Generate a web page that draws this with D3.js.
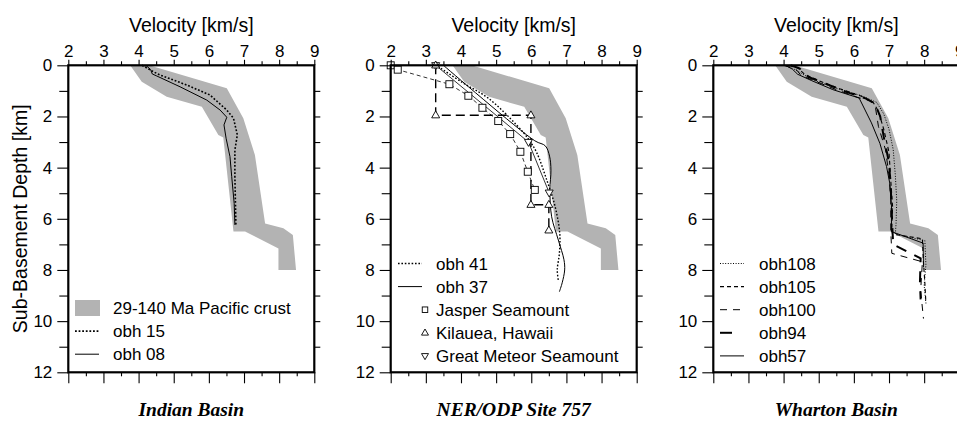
<!DOCTYPE html>
<html><head><meta charset="utf-8">
<script src="https://cdn.jsdelivr.net/npm/d3@7"></script>
<style>body{margin:0;background:#fff}svg{display:block}</style>
</head><body><svg id="c" width="957" height="421"></svg>
<script>
// ---- data ----
const panelTitles = ["Indian Basin", "NER/ODP Site 757", "Wharton Basin"];
const velTicks = [2,3,4,5,6,7,8,9];
const depthTicks = [0,2,4,6,8,10,12];
// Pacific crust envelope (29-140 Ma), polygon: velocity / depth
const bandV = [3.76,4.09,4.80,5.80,6.27,6.41,6.70,7.03,7.98,7.98,8.48,8.39,8.12,7.60,7.31,6.98,6.51,4.30];
const bandD = [0,0.64,1.23,1.62,2.72,2.82,6.5,6.5,7.16,8.0,8.0,6.63,6.37,6.18,3.51,2.07,0.9,0];
// Indian Basin
const obh15V = [4.10,4.42,4.61,5.37,6.03,6.51,6.70,6.81,6.74,6.74,6.77];
const obh15D = [0,0.25,0.38,0.77,1.16,1.75,2.07,2.72,3.31,4.35,6.24];
const obh08V = [4.10,4.23,4.34,4.39,4.52,5.18,5.94,6.32,6.51,6.43,6.49,6.60,6.65,6.72,6.74];
const obh08D = [0,0.03,0.16,0.34,0.42,0.84,1.36,1.75,2.03,2.33,2.85,3.57,4.35,5.40,6.24];
// NER / ODP Site 757
const obh41V = [3.35,4.05,4.78,5.58,5.93,6.15,6.44,6.68,6.81,6.80,6.74,6.77];
const obh41D = [0.05,0.68,1.29,2.33,2.90,3.40,4.48,5.53,6.57,7.35,8.00,8.40];
const obh37V = [3.50,6.10,6.40,6.52,6.56,6.53,6.58,6.77,6.93,6.95,6.88,6.80];
const obh37D = [0,2.95,3.15,3.55,4.10,4.87,5.92,6.83,7.60,8.00,8.50,8.85];
const jasperV = [2.00,2.20,3.67,4.21,4.61,5.06,5.40,5.69,5.90,6.10];
const jasperD = [0,0.17,0.74,1.19,1.66,2.18,2.69,3.38,4.16,4.87];
const kilaueaV = [3.28,3.28,5.99,5.99,6.50,6.50];
const kilaueaD = [0,1.95,1.95,5.45,5.45,6.45];
const meteorV = [3.28,5.92,6.51];
const meteorD = [0,3.00,4.98];
// Wharton Basin
const obh108V = [4.10,4.30,4.55,4.90,5.50,6.20,6.65,6.85,7.00,7.12,7.18,7.22,7.20,7.18,8.02,8.05,8.00,8.05];
const obh108D = [0,0.15,0.35,0.60,0.90,1.18,1.45,1.90,2.50,3.30,4.30,5.30,6.20,6.60,6.85,7.80,8.60,9.30];
const obh105V = [4.15,4.40,4.60,5.00,5.60,6.20,6.55,6.70,6.85,7.00,7.05,7.10,7.08,7.10,7.95,7.98,8.02,8.05];
const obh105D = [0,0.10,0.35,0.60,0.92,1.20,1.45,1.80,2.50,3.40,4.50,5.50,6.40,6.60,6.78,7.70,8.50,9.30];
const obh100V = [4.00,4.35,4.50,4.95,5.50,6.10,6.50,6.62,6.70,6.90,7.00,7.05,7.05,7.08,7.95,7.90,7.98];
const obh100D = [0,0.15,0.40,0.65,0.95,1.25,1.40,1.70,2.40,3.30,4.30,5.20,6.50,7.35,7.68,8.80,9.90];
const obh94V = [4.20,4.45,4.70,5.20,5.80,6.35,6.60,6.75,6.85,7.00,7.05,7.08,7.10,7.12,7.90,7.88,7.90];
const obh94D = [0,0.12,0.45,0.72,1.05,1.30,1.50,2.00,2.80,3.80,4.80,5.80,6.50,7.00,7.55,8.50,9.15];
const obh57V = [4.05,4.25,4.40,4.80,5.40,6.15,6.50,6.74,6.93,7.02,7.07,7.07,7.97,7.98];
const obh57D = [0,0.15,0.35,0.60,0.95,1.28,2.25,3.05,3.96,4.60,5.50,6.50,6.95,7.90];

// ---- layout ----
const svg = d3.select("#c");
const SANS = "'Liberation Sans', Arial, Helvetica, sans-serif";
const SERIF = "'Liberation Serif', 'Times New Roman', serif";
const panelX = [68.3, 390.7, 713.3];
const pw = 246, yTop = 65.3, yBot = 372.3;
const zip = (v, d) => v.map((x, i) => [x, d[i]]);

const series = [
  [ {v:obh15V,d:obh15D,w:1.6,dash:"1.8,1.8"},
    {v:obh08V,d:obh08D,w:1,dash:null} ],
  [ {v:jasperV,d:jasperD,w:0.8,dash:"4,3",mark:"square"},
    {v:meteorV,d:meteorD,w:0.8,dash:null,mark:"tdown"},
    {v:kilaueaV,d:kilaueaD,w:1.4,dash:"9,5",mark:"tup"},
    {v:obh41V,d:obh41D,w:1.4,dash:"1.6,1.8",curve:true},
    {v:obh37V,d:obh37D,w:1,dash:null,curve:true} ],
  [ {v:obh108V,d:obh108D,w:1,dash:"1,1.6"},
    {v:obh105V,d:obh105D,w:1.1,dash:"4,3"},
    {v:obh100V,d:obh100D,w:1,dash:"7,6"},
    {v:obh94V,d:obh94D,w:2,dash:"11,9"},
    {v:obh57V,d:obh57D,w:1,dash:null} ]
];
const legends = [
  [ {label:"29-140 Ma Pacific crust", type:"band"},
    {label:"obh 15", w:1.6, dash:"1.8,1.8"},
    {label:"obh 08", w:1, dash:null} ],
  [ {label:"obh 41", w:1.4, dash:"1.6,1.8"},
    {label:"obh 37", w:1, dash:null},
    {label:"Jasper Seamount", mark:"square"},
    {label:"Kilauea, Hawaii", mark:"tup"},
    {label:"Great Meteor Seamount", mark:"tdown"} ],
  [ {label:"obh108", w:1, dash:"1,1.6"},
    {label:"obh105", w:1.1, dash:"4,3"},
    {label:"obh100", w:1, dash:"7,6"},
    {label:"obh94", w:2, dash:"12,40"},
    {label:"obh57", w:1, dash:null} ]
];
const legendPos = [ {x:75,y:308,tx:113}, {x:398,y:263.5,tx:436}, {x:720,y:263.5,tx:759} ];

function marker(g, type, x, y, s) {
  if (type === "square") {
    g.append("rect").attr("x", x - s/2).attr("y", y - s/2).attr("width", s).attr("height", s)
      .attr("fill", "#fff").attr("stroke", "#000").attr("stroke-width", 0.9);
  } else {
    const h = s * 0.87, sgn = type === "tup" ? 1 : -1;
    const pts = [[x, y - sgn*h*0.62],[x - s/2, y + sgn*h*0.38],[x + s/2, y + sgn*h*0.38]];
    g.append("path").attr("d", "M" + pts.map(p => p.join(",")).join("L") + "Z")
      .attr("fill", "#fff").attr("stroke", "#000").attr("stroke-width", 0.9);
  }
}

panelX.forEach((x0, pi) => {
  const xs = d3.scaleLinear().domain([2, 9]).range([x0, x0 + pw]);
  const ys = d3.scaleLinear().domain([0, 12]).range([yTop, yBot]);
  const g = svg.append("g");

  const band = zip(bandV, bandD);
  g.append("path").attr("d", d3.line().x(p => xs(p[0])).y(p => ys(p[1]))(band) + "Z")
    .attr("fill", "#b3b3b3").attr("stroke", "none");

  series[pi].forEach(s => {
    const pts = zip(s.v, s.d);
    const ln = d3.line().x(p => xs(p[0])).y(p => ys(p[1]));
    if (s.curve) ln.curve(d3.curveCatmullRom.alpha(0.5));
    g.append("path").attr("d", ln(pts)).attr("fill", "none").attr("stroke", "#000")
      .attr("stroke-width", s.w).attr("stroke-dasharray", s.dash);
  });
  series[pi].forEach(s => {
    if (!s.mark) return;
    zip(s.v, s.d).forEach(p => marker(g, s.mark, xs(p[0]), ys(p[1]), s.mark === "square" ? 7 : 8));
  });

  const half = d3.range(2.5, 9, 1);
  const odd = [1,3,5,7,9,11];
  const ax = (gen, tr) => {
    const a = g.append("g").attr("transform", tr).call(gen);
    a.select(".domain").remove();
    a.selectAll("line").attr("stroke", "#000").attr("stroke-width", 1.1);
    a.selectAll("text").attr("font-family", SANS).attr("font-size", 17).attr("fill", "#000");
    return a;
  };
  ax(d3.axisTop(xs).tickValues(velTicks).tickSize(5.5).tickPadding(3).tickFormat(d3.format("d")), `translate(0,${yTop})`);
  ax(d3.axisTop(xs).tickValues(half).tickSize(4).tickFormat(""), `translate(0,${yTop})`);
  ax(d3.axisBottom(xs).tickValues(velTicks).tickSize(11).tickFormat(""), `translate(0,${yBot})`);
  ax(d3.axisBottom(xs).tickValues(half).tickSize(4).tickFormat(""), `translate(0,${yBot})`);
  ax(d3.axisLeft(ys).tickValues(depthTicks).tickSize(11).tickPadding(5).tickFormat(d3.format("d")), `translate(${x0},0)`);
  ax(d3.axisLeft(ys).tickValues(odd).tickSize(9).tickFormat(""), `translate(${x0},0)`);
  ax(d3.axisRight(ys).tickValues(d3.range(1, 12)).tickSize(6).tickFormat(""), `translate(${x0 + pw},0)`);

  g.append("rect").attr("x", x0).attr("y", yTop).attr("width", pw).attr("height", yBot - yTop)
    .attr("fill", "none").attr("stroke", "#000").attr("stroke-width", 2.2);

  g.append("text").attr("x", x0 + pw/2).attr("y", 32).attr("text-anchor", "middle")
    .attr("font-family", SANS).attr("font-size", 19.5).text("Velocity [km/s]");
  g.append("text").attr("x", x0 + pw/2).attr("y", 416).attr("text-anchor", "middle")
    .attr("font-family", SERIF).attr("font-weight", "bold").attr("font-style", "italic")
    .attr("font-size", 19.5).text(panelTitles[pi]);

  const lp = legendPos[pi];
  legends[pi].forEach((e, i) => {
    const yy = lp.y + i * 23.1;
    if (e.type === "band") {
      g.append("rect").attr("x", lp.x).attr("y", yy - 8).attr("width", 25).attr("height", 16).attr("fill", "#b3b3b3");
    } else if (e.mark) {
      marker(g, e.mark, lp.x + 27, yy, e.mark === "square" ? 5.5 : 7);
    } else {
      g.append("line").attr("x1", lp.x).attr("x2", lp.x + 24).attr("y1", yy).attr("y2", yy)
        .attr("stroke", "#000").attr("stroke-width", e.w).attr("stroke-dasharray", e.dash);
    }
    g.append("text").attr("x", lp.tx).attr("y", yy + 6).attr("font-family", SANS)
      .attr("font-size", 17).text(e.label);
  });
});

svg.append("text").attr("transform", "translate(27,218.8) rotate(-90)").attr("text-anchor", "middle")
  .attr("font-family", SANS).attr("font-size", 19.5).text("Sub-Basement Depth [km]");
</script></body></html>
